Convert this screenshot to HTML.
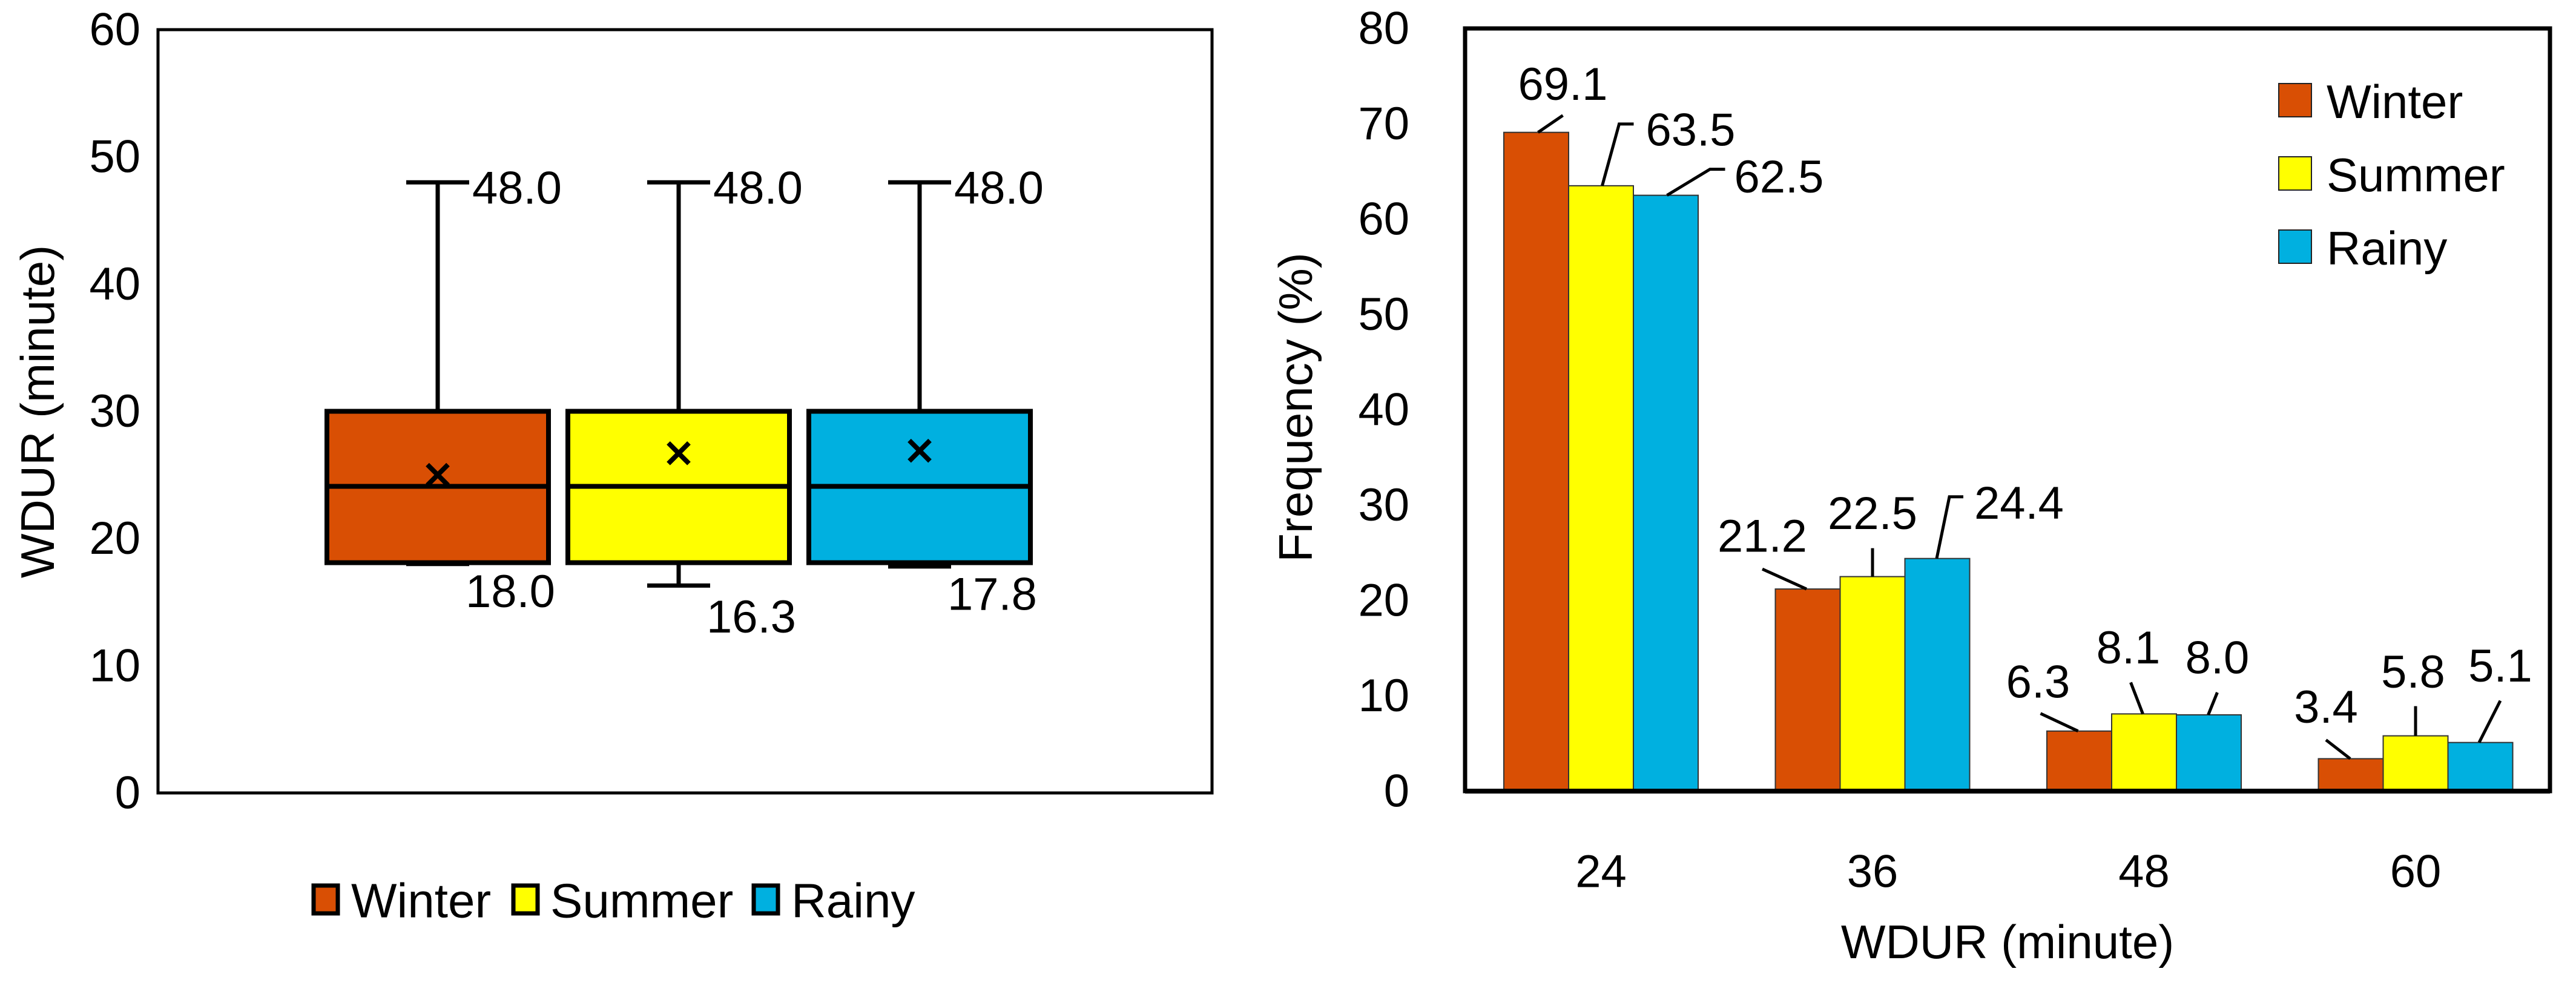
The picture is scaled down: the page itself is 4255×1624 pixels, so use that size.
<!DOCTYPE html>
<html><head><meta charset="utf-8"><style>
html,body{margin:0;padding:0;background:#fff;width:4255px;height:1624px;overflow:hidden}
svg{display:block}
text{font-family:"Liberation Sans",sans-serif;fill:#000}
</style></head><body>
<svg id="chart" width="4255" height="1624" viewBox="0 0 4255 1624" xmlns="http://www.w3.org/2000/svg"></svg>
<script>
// ---------- data ----------
const seasons = ["Winter","Summer","Rainy"];
const colors = ["#D94F04","#FFFF00","#00B0E0"];
// box plot
const boxMax = [48.0,48.0,48.0];
const boxQ3 = [30.0,30.0,30.0];
const boxMedian = [24.1,24.1,24.1];
const boxQ1 = [18.1,18.1,18.1];
const boxMin = [18.0,16.3,17.8];
const boxMean = [25.0,26.7,26.9];
const boxMaxLabels = ["48.0","48.0","48.0"];
const boxMinLabels = ["18.0","16.3","17.8"];
const leftTicks = [0,10,20,30,40,50,60];
// bar chart
const categories = ["24","36","48","60"];
const winterVals = [69.1,21.2,6.3,3.4];
const summerVals = [63.5,22.5,8.1,5.8];
const rainyVals = [62.5,24.4,8.0,5.1];
const rightTicks = [0,10,20,30,40,50,60,70,80];

const svg = document.getElementById('chart');
const NS = "http://www.w3.org/2000/svg";
function mk(tag, attrs, parent){
  const e = document.createElementNS(NS, tag);
  for (const k in attrs) e.setAttribute(k, attrs[k]);
  (parent||svg).appendChild(e);
  return e;
}
function txt(s, x, y, size, anchor, parent){
  const t = mk('text',{x:x,y:y,'font-size':size,'text-anchor':anchor||'start','dominant-baseline':'central'},parent);
  t.textContent = s;
  return t;
}

// ---------- left box plot ----------
const L = {x0:261, x1:2002, y0:1310, y1:49, vmax:60};
const ly = v => L.y0 - (v/L.vmax)*(L.y0-L.y1);
const boxLeft = [540,938,1336], boxW = 366;
const gL = mk('g',{});


const frameL = mk('rect',{x:L.x0,y:L.y1,width:L.x1-L.x0,height:L.y0-L.y1,fill:'#fff',stroke:'#000','stroke-width':5},gL);


leftTicks.forEach(v=>{
  const t = txt(String(v), 232, ly(v), 76, 'end', gL);
  
  
});
const ltitle = mk('text',{x:0,y:0,'font-size':78,'text-anchor':'middle','dominant-baseline':'central',transform:'translate(62,680) rotate(-90)'},gL);
ltitle.textContent = 'WDUR (minute)';


seasons.forEach((s,i)=>{
  const g = mk('g',{},gL);
  
  
  const cx = boxLeft[i] + boxW/2;
  mk('line',{x1:cx,x2:cx,y1:ly(boxMax[i]),y2:ly(boxQ3[i]),stroke:'#000','stroke-width':7},g);
  mk('line',{x1:cx-52,x2:cx+52,y1:ly(boxMax[i]),y2:ly(boxMax[i]),stroke:'#000','stroke-width':7},g);
  mk('line',{x1:cx,x2:cx,y1:ly(boxQ1[i]),y2:ly(boxMin[i]),stroke:'#000','stroke-width':7},g);
  mk('line',{x1:cx-52,x2:cx+52,y1:ly(boxMin[i]),y2:ly(boxMin[i]),stroke:'#000','stroke-width':7},g);
  mk('rect',{x:boxLeft[i],y:ly(boxQ3[i]),width:boxW,height:ly(boxQ1[i])-ly(boxQ3[i]),fill:colors[i],stroke:'#000','stroke-width':8},g);
  mk('line',{x1:boxLeft[i],x2:boxLeft[i]+boxW,y1:ly(boxMedian[i]),y2:ly(boxMedian[i]),stroke:'#000','stroke-width':8},g);
  const my = ly(boxMean[i]);
  mk('path',{d:`M${cx-17} ${my-17}L${cx+17} ${my+17}M${cx+17} ${my-17}L${cx-17} ${my+17}`,stroke:'#000','stroke-width':8,fill:'none'},g);
  const tmax = txt(boxMaxLabels[i], cx+57, ly(boxMax[i])+10, 76, 'start', g);
  
  
  const tmin = txt(boxMinLabels[i], cx+46, ly(boxMin[i])+(i===1?52:46), 76, 'start', g);
  
  
});
// left legend
const legL = mk('g',{},gL);


const legLX = [518,848,1245], legLT=[580,909,1307];
seasons.forEach((s,i)=>{
  const e = mk('g',{},legL);
  
  
  mk('rect',{x:legLX[i],y:1463,width:40,height:46,fill:colors[i],stroke:'#000','stroke-width':7},e);
  txt(s, legLT[i], 1488, 80, 'start', e);
});

// ---------- right bar chart ----------
const R = {x0:2420, x1:4212, y0:1307, y1:47, vmax:80};
const ry = v => R.y0 - (v/R.vmax)*(R.y0-R.y1);
const barW = 107, groupStep = 448.5, firstLeft = 2484;
const bx = (g,s) => firstLeft + g*groupStep + s*barW;
const gR = mk('g',{});


const frameR = mk('rect',{x:R.x0,y:R.y1,width:R.x1-R.x0,height:R.y0-R.y1,fill:'#fff',stroke:'#000','stroke-width':7},gR);


rightTicks.forEach(v=>{
  const t = txt(String(v), 2328, ry(v), 76, 'end', gR);
  
  
});
const rtitle = mk('text',{x:0,y:0,'font-size':78,'text-anchor':'middle','dominant-baseline':'central',transform:'translate(2140,673) rotate(-90)'},gR);
rtitle.textContent = 'Frequency (%)';


const xtitle = txt('WDUR (minute)', 3316, 1556, 78, 'middle', gR);


categories.forEach((c,g)=>{
  const t = txt(c, bx(g,1)+barW/2, 1440, 76, 'middle', gR);
  
  
});
const series = [winterVals, summerVals, rainyVals];
// leader line style offsets (layout only): [dx1,dy1,dx2,dy2,(dx3,dy3)] and label offsets
const leaders = [
 [[3,0,44,-28],[2,0,30,-102,54,-102],[2,0,73,-43,98,-43]],
 [[-2,0,-75,-33],[0,0,0,-47],[-1,0,20,-102,43,-102]],
 [[-2,0,-64,-29],[-2,0,-22,-52],[-1,0,14,-37]],
 [[-1,0,-41,-31],[0,0,0,-49],[-2,0,33,-69]]
];
const labelPos = [
 [[44,-79,'middle'],[74,-92,'start'],[113,-30,'start']],
 [[-75,-87,'middle'],[0,-104,'middle'],[61,-91,'start']],
 [[-68,-81,'middle'],[-26,-109,'middle'],[14,-94,'middle']],
 [[-41,-85,'middle'],[-4,-105,'middle'],[33,-126,'middle']]
];
categories.forEach((c,g)=>{
  seasons.forEach((s,si)=>{
    const v = series[si][g];
    const x = bx(g,si), y = ry(v);
    const b = mk('rect',{x:x,y:y,width:barW,height:R.y0-y,fill:colors[si],stroke:'#333','stroke-width':2},gR);
    
    
    const cx = x + barW/2;
    const L2 = leaders[g][si];
    let d = `M${cx+L2[0]} ${y+L2[1]}L${cx+L2[2]} ${y+L2[3]}`;
    if (L2.length>4) d += `L${cx+L2[4]} ${y+L2[5]}`;
    mk('path',{d:d,stroke:'#000','stroke-width':5,fill:'none'},gR);
    const lp = labelPos[g][si];
    const t = txt(v.toFixed(1), cx+lp[0], y+lp[1], 76, lp[2], gR);
    
    
  });
});
// baseline
mk('line',{x1:R.x0,x2:R.x1,y1:R.y0,y2:R.y0,stroke:'#000','stroke-width':8},gR);
// right legend
const legR = mk('g',{},gR);


const legRY = [138,259,380];
seasons.forEach((s,i)=>{
  const e = mk('g',{},legR);
  
  
  mk('rect',{x:3764,y:legRY[i],width:54,height:55,fill:colors[i],stroke:'#222','stroke-width':2},e);
  txt(s, 3843, legRY[i]+30, 78, 'start', e);
});
</script>
</body></html>
